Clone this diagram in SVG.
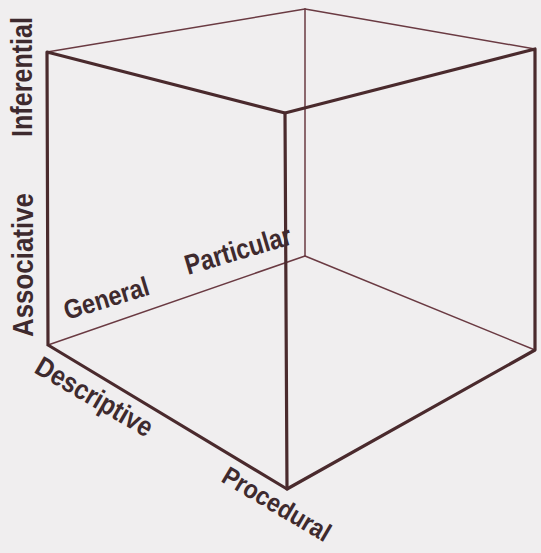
<svg xmlns="http://www.w3.org/2000/svg" width="541" height="553" viewBox="0 0 541 553">
  <style>
    .thick { stroke: #4a2a2d; stroke-width: 3.2; stroke-linecap: round; stroke-linejoin: round; fill: none; }
    .thin { stroke: #6a3a42; stroke-width: 1.5; stroke-linecap: round; fill: none; }
    .lbl { font-family: "Liberation Sans", Arial, sans-serif; font-weight: bold; fill: #3e2a2e; }
  </style>
  <rect x="0" y="0" width="541" height="553" fill="#f0eeef"/>
  <g id="hidden-edges">
    <line class="thin" x1="47" y1="52" x2="305" y2="9"/>
    <line class="thin" x1="305" y1="9" x2="535" y2="49"/>
    <line class="thin" x1="305" y1="9" x2="305" y2="256"/>
    <line class="thin" x1="305" y1="256" x2="48" y2="345"/>
    <line class="thin" x1="305" y1="256" x2="535" y2="350"/>
  </g>
  <g id="front-edges">
    <polyline class="thick" points="48,345 47,52 285,113 535,49 535,350 287,489 48,345"/>
    <line class="thick" x1="285" y1="113" x2="287" y2="489"/>
  </g>
  <g id="labels">
    <text id="inferential" class="lbl" font-size="30" textLength="120" lengthAdjust="spacingAndGlyphs" transform="translate(32,137) rotate(-90)">Inferential</text>
    <text id="associative" class="lbl" font-size="29" textLength="144" lengthAdjust="spacingAndGlyphs" transform="translate(33,337) rotate(-90)">Associative</text>
    <text id="general" class="lbl" font-size="27" textLength="88" lengthAdjust="spacingAndGlyphs" transform="translate(67,320) rotate(-17)">General</text>
    <text id="particular" class="lbl" font-size="28" textLength="110" lengthAdjust="spacingAndGlyphs" transform="translate(188,275) rotate(-16.5)">Particular</text>
    <text id="descriptive" class="lbl" font-size="28" textLength="131" lengthAdjust="spacingAndGlyphs" transform="translate(33,372) rotate(30.2)">Descriptive</text>
    <text id="procedural" class="lbl" font-size="26" textLength="121" lengthAdjust="spacingAndGlyphs" transform="translate(220,481) rotate(30.5)">Procedural</text>
  </g>
</svg>
